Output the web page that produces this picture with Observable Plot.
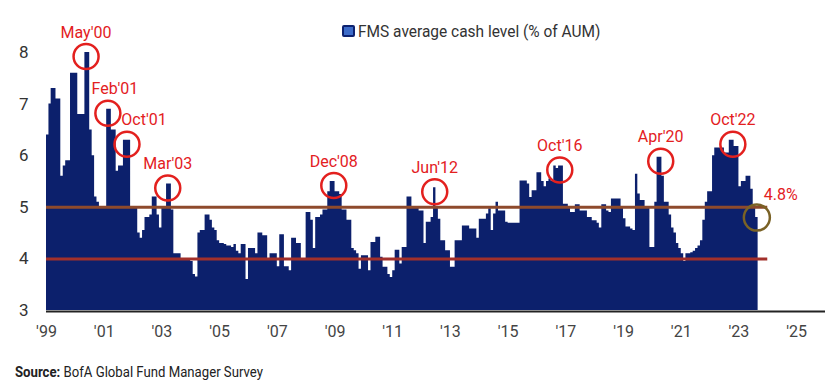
<!DOCTYPE html>
<html><head><meta charset="utf-8">
<script src="https://cdn.jsdelivr.net/npm/d3@7"></script>
<script src="https://cdn.jsdelivr.net/npm/@observablehq/plot@0.6"></script>
<style>
body{margin:0;background:#fff;}
#wrap{position:relative;width:830px;height:392px;font-family:Roboto,"Noto Sans",sans-serif;overflow:hidden;}
#chart{position:absolute;left:0;top:0;}
#legend{position:absolute;left:342px;top:21px;height:20px;display:flex;align-items:center;font-size:17px;color:#333;white-space:nowrap;}
#legend .sw{width:9px;height:8px;border:2.5px solid #0d2270;background:#3d6cc9;border-radius:2px;margin-right:3px;}
#legendText{display:inline-block;transform:scaleX(0.91);transform-origin:left center;}
#source{position:absolute;left:15px;top:364px;font-size:14px;color:#222;white-space:nowrap;transform:scaleX(0.94);transform-origin:left center;}
</style></head><body>
<div id="wrap"><div id="chart"></div>
<div id="legend"><span class="sw"></span><span id="legendText">FMS average cash level (% of AUM)</span></div>
<div id="source"><b>Source:</b> BofA Global Fund Manager Survey</div>
</div>
<script>
// Monthly FMS average cash level (%), Jan 1999 onwards
const firstYear = 1999;
const cashLevel = [
  6.4, 7.0, 7.3, 7.3, 7.1, 7.1, 5.6, 5.8, 5.9, 5.9, 7.6, 7.6,
  7.6, 6.8, 6.8, 6.8, 8.0, 8.0, 6.5, 6.0, 5.2, 5.1, 5.0, 5.0,
  5.0, 6.9, 6.9, 6.5, 6.5, 5.7, 5.8, 5.8, 6.3, 6.3, 6.3, 5.0,
  5.0, 5.0, 4.5, 4.4, 4.55, 4.8, 4.8, 4.85, 5.2, 5.2, 4.85, 4.6,
  5.0, 5.0, 5.45, 5.45, 4.95, 4.1, 4.1, 4.1, 4.0, 4.0, 4.0, 4.0,
  3.95, 3.7, 3.65, 4.5, 4.55, 4.55, 4.85, 4.85, 4.75, 4.6, 4.55, 4.35,
  4.3, 4.3, 4.28, 4.25, 4.25, 4.22, 4.28, 4.15, 4.1, 4.28, 4.28, 3.6,
  4.2, 4.2, 4.2, 4.1, 4.5, 4.5, 4.45, 4.45, 3.97, 4.1, 4.1, 4.1,
  3.85, 4.47, 4.47, 3.85, 3.85, 3.77, 4.4, 4.4, 4.3, 4.3, 4.0, 4.0,
  4.9, 4.9, 4.75, 4.2, 4.8, 4.8, 4.85, 4.95, 4.95, 5.3, 5.5, 5.5,
  5.3, 5.3, 5.25, 4.95, 4.95, 4.75, 4.75, 4.2, 4.16, 4.1, 3.8, 4.06,
  4.06, 4.06, 3.77, 4.32, 4.32, 4.42, 4.42, 4.03, 3.84, 3.84, 3.7, 3.64,
  3.77, 4.17, 4.17, 3.9, 4.22, 4.22, 5.2, 5.2, 5.0, 5.0, 5.0, 4.93,
  4.93, 4.3, 4.71, 4.71, 4.8, 5.38, 5.0, 4.77, 4.35, 4.35, 4.16, 4.16,
  3.84, 3.84, 4.35, 4.35, 4.35, 4.64, 4.64, 4.64, 4.58, 4.58, 4.58, 4.4,
  4.77, 4.77, 4.77, 4.87, 4.97, 4.55, 4.87, 5.1, 4.93, 4.93, 4.93, 4.71,
  4.69, 4.69, 4.69, 4.69, 4.69, 5.51, 5.51, 5.51, 5.45, 5.19, 5.32, 5.32,
  5.67, 5.67, 5.5, 5.4, 5.5, 5.55, 5.5, 5.8, 5.75, 5.8, 5.8, 5.06,
  5.06, 5.0, 4.9, 4.9, 5.05, 5.05, 4.93, 4.93, 4.93, 4.8, 4.8, 4.74,
  4.74, 4.69, 4.6, 5.05, 5.05, 4.93, 4.9, 5.16, 5.16, 5.16, 5.16, 5.0,
  4.78, 4.62, 4.62, 4.58, 4.55, 5.64, 5.26, 5.13, 5.13, 5.0, 5.0, 4.22,
  4.22, 5.1, 5.97, 5.97, 5.6, 5.1, 5.1, 4.85, 4.6, 4.5, 4.3, 4.2,
  4.1, 3.95, 4.1, 4.1, 4.12, 4.15, 4.2, 4.25, 4.35, 4.75, 5.1, 5.3,
  5.3, 6.0, 6.15, 6.15, 6.15, 6.15, 6.05, 6.05, 6.3, 6.3, 6.18, 6.18,
  5.4, 5.5, 5.5, 5.6, 5.6, 5.35, 5.0, 4.8
];
const yTicks = [3, 4, 5, 6, 7, 8];
const xTickYears = [1999, 2001, 2003, 2005, 2007, 2009, 2011, 2013, 2015, 2017, 2019, 2021, 2023, 2025];
const thresholds = [5, 4];
const annoLabels = ["May'00", "Feb'01", "Oct'01", "Mar'03", "Dec'08", "Jun'12", "Oct'16", "Apr'20", "Oct'22"];
const annoMonths = ["2000-05", "2001-02", "2001-10", "2003-03", "2008-12", "2012-06", "2016-10", "2020-04", "2022-10"];
const latestLabel = "4.8%";

const utc = (y, m, d = 1) => new Date(Date.UTC(y, m, d));
const bars = cashLevel.map((v, i) => ({start: utc(firstYear, i), end: utc(firstYear, i + 1), mid: utc(firstYear, i, 16), value: v}));
// step outline of the monthly bars (one closing point at the end of the last month)
const steps = bars.map(d => ({date: d.start, value: d.value}))
  .concat([{date: bars[bars.length - 1].end, value: bars[bars.length - 1].value}]);
const annos = annoLabels.map((label, i) => {
  const [yy, mm] = annoMonths[i].split("-").map(Number);
  const idx = (yy - firstYear) * 12 + (mm - 1);
  return {label, date: bars[idx].mid, value: cashLevel[idx]};
});
const last = bars[bars.length - 1];
const latest = [{label: latestLabel, date: last.mid, value: last.value}];
const navy = "#0c206c";
const red = "#e3201e";
// label placement tweaks (style only)
const shiftedRight = {"Feb'01": 7, "Oct'01": 17};
const centred = annos.filter(d => !(d.label in shiftedRight));

const chart = Plot.plot({
  width: 830, height: 392,
  marginLeft: 46, marginRight: 5, marginTop: 52, marginBottom: 82,
  x: {type: "utc", domain: [utc(1999, 0), utc(2026, 0)]},
  y: {domain: [3, 8]},
  style: {fontFamily: "Roboto, 'Noto Sans', sans-serif", background: "white", overflow: "visible"},
  marks: [
    Plot.areaY(steps, {x: "date", y1: 3, y2: "value", curve: "step-after", fill: navy}),
    Plot.ruleY([thresholds[0]], {x1: utc(1999, 0), x2: utc(2024, 0), stroke: "#8e4a2c", strokeWidth: 3}),
    Plot.ruleY([thresholds[1]], {x1: utc(1999, 0), x2: utc(2024, 0), stroke: "#a2302b", strokeWidth: 3}),
    Plot.ruleY([3], {stroke: "#222", strokeWidth: 2, dy: 1}),
    Plot.axisY({ticks: yTicks, tickFormat: d => String(d), tickSize: 0, tickPadding: 18, fontSize: 17, fill: "#333", label: null}),
    Plot.axisX({ticks: xTickYears.map(y => utc(y, 0)), tickFormat: d => "'" + String(d.getUTCFullYear()).slice(2), tickSize: 0, tickPadding: 15, fontSize: 16, fill: "#444", label: null}),
    Plot.dot(annos, {x: "date", y: "value", r: 12.5, stroke: red, strokeWidth: 2.5, fill: "none", dy: 4}),
    Plot.text(centred, {x: "date", y: "value", text: "label", dy: -20, fill: red, fontSize: 16}),
    ...Object.entries(shiftedRight).map(([lab, dx]) =>
      Plot.text(annos.filter(d => d.label === lab), {x: "date", y: "value", text: "label", dx, dy: -20, fill: red, fontSize: 16})),
    Plot.dot(latest, {x: "date", y: "value", r: 13, stroke: "#7a6226", strokeWidth: 2.5, fill: "none"}),
    Plot.text(latest, {x: "date", y: "value", text: "label", dx: 7, dy: -23, textAnchor: "start", fill: red, fontSize: 16})
  ]
});
document.getElementById("chart").appendChild(chart);
</script>
</body></html>
